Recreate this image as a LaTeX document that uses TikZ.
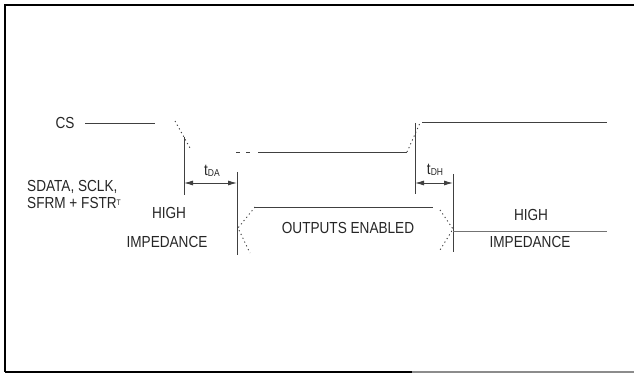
\documentclass[tikz,border=0pt]{standalone}
\usepackage{fontspec}
\setmainfont{Liberation Sans}[FakeStretch=0.85]
\usetikzlibrary{arrows.meta, positioning}
\newcommand{\tmsub}[1]{{\fontsize{10}{10}\selectfont\raisebox{-1.5pt}{#1}}}

\begin{document}
\begin{tikzpicture}[x=1pt, y=-1pt,
  frame/.style={line width=1.5pt, draw=black},
  wave/.style={line width=0.9pt, draw=black!75},
  trans/.style={wave, dash pattern=on 1.2pt off 3pt},
  marker/.style={line width=0.9pt, draw=black!75},
  dimline/.style={{Latex[length=9pt,width=5pt]}-{Latex[length=9pt,width=5pt]}, line width=0.9pt, draw=black!75},
  lbl/.style={font=\fontsize{16}{16}\selectfont, inner sep=0pt, text=black!85}
]
\useasboundingbox (0,0) rectangle (634,374);

% frame
\coordinate (fbl) at (5,372);
\coordinate (ftl) at (5,5);
\coordinate (ftr) at (634,5);
\coordinate (fbm) at (412,372);
\coordinate (fbr) at (634,372);
\draw[frame] (fbl) -- (ftl) -- (ftr);
\draw[frame] (fbl) -- (fbm);
\draw[frame, draw=black!45] (fbm) -- (fbr);

% CS waveform
\coordinate (csA) at (85,123);
\coordinate (csB) at (155,123);
\coordinate (fallA) at (175,121);
\coordinate (fallB) at (190,148);
\coordinate (lowA) at (236,152);
\coordinate (lowB) at (255,152);
\coordinate (lowC) at (258,152);
\coordinate (lowD) at (407,152);
\coordinate (riseB) at (420,123);
\coordinate (hiA) at (422,122);
\coordinate (hiB) at (607,122);
\draw[wave] (csA) -- (csB);
\draw[trans] (fallA) -- (fallB);
\draw[wave, dash pattern=on 4pt off 6pt] (lowA) -- (lowB);
\draw[wave] (lowC) -- (lowD);
\draw[trans] (lowD) -- (riseB);
\draw[wave] (hiA) -- (hiB);

% timing markers
\coordinate (m1t) at (184,137);
\coordinate (m1b) at (184,195);
\coordinate (m2t) at (237,172);
\coordinate (m2b) at (237,255);
\coordinate (m3t) at (415,123);
\coordinate (m3b) at (415,194);
\coordinate (m4t) at (453,174);
\coordinate (m4b) at (453,252);
\foreach \m in {m1,m2,m3,m4}
  \draw[marker] (\m t) -- (\m b);
\coordinate (da1) at (184,183);
\coordinate (da2) at (237,183);
\coordinate (dh1) at (415,183);
\coordinate (dh2) at (453,183);
\draw[dimline] (da1) -- (da2);
\draw[dimline] (dh1) -- (dh2);

% data bus
\coordinate (busTL) at (255,207);
\coordinate (busTR) at (433,207);
\coordinate (busL) at (238,228);
\coordinate (busLB) at (250,253);
\coordinate (busRT) at (440,210);
\coordinate (busR) at (453,229);
\coordinate (busRB) at (440,250);
\coordinate (hzA) at (453,231);
\coordinate (hzB) at (607,231);
\draw[wave] (busTL) -- (busTR);
\draw[trans] (busTL) -- (busL) -- (busLB);
\draw[trans] (busRT) -- (busR) -- (busRB);
\draw[wave, draw=black!55] (hzA) -- (hzB);

% labels
\node[lbl] (cs) at (65,123) {CS};
\node[lbl, anchor=west] (sig1) at (27,187) {SDATA, SCLK,};
\node[lbl, anchor=west] (sig2) at (27,203) {SFRM + FSTR{\fontsize{8}{8}\selectfont\raisebox{3pt}{T}}};
\node[lbl] (tda) at (212,171) {t\tmsub{DA}};
\node[lbl] (tdh) at (435,170) {t\tmsub{DH}};
\node[lbl] (hiL) at (169,213) {HIGH};
\node[lbl] (impL) at (167,242) {IMPEDANCE};
\node[lbl] (oe) at (348,228) {OUTPUTS ENABLED};
\node[lbl] (hiR) at (531,215) {HIGH};
\node[lbl] (impR) at (530,242) {IMPEDANCE};
\end{tikzpicture}
\end{document}
